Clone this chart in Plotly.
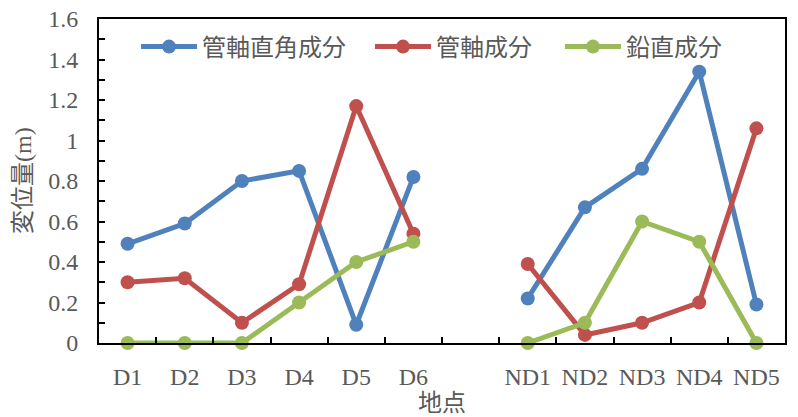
import plotly.graph_objects as go

# Survey points (blank slot separates the D and ND groups)
points = ["D1", "D2", "D3", "D4", "D5", "D6", " ", "ND1", "ND2", "ND3", "ND4", "ND5"]

# Displacement components (m); None marks the blank slot
perpendicular = [0.49, 0.59, 0.80, 0.85, 0.09, 0.82, None, 0.22, 0.67, 0.86, 1.34, 0.19]
axial = [0.30, 0.32, 0.10, 0.29, 1.17, 0.54, None, 0.39, 0.04, 0.10, 0.20, 1.06]
vertical = [0.0, 0.0, 0.0, 0.20, 0.40, 0.50, None, 0.0, 0.10, 0.60, 0.50, 0.0]

series = [
    ("管軸直角成分", perpendicular, "#4F81BD", "legend", 0.054),
    ("管軸成分", axial, "#C0504D", "legend2", 0.395),
    ("鉛直成分", vertical, "#9BBB59", "legend3", 0.672),
]

font_family = "Liberation Serif, 'Noto Sans CJK JP', serif"
gray = "#595959"

fig = go.Figure()
legend_layouts = {}
for name, values, color, legend_id, lx in series:
    fig.add_trace(go.Scatter(
        x=points, y=values, name=name, mode="lines+markers",
        line=dict(color=color, width=5),
        marker=dict(color=color, size=14),
        connectgaps=False, cliponaxis=False, legend=legend_id,
    ))
    legend_layouts[legend_id] = dict(
        x=lx, y=0.9136, xanchor="left", yanchor="middle",
        bgcolor="rgba(0,0,0,0)", font=dict(size=24, color=gray),
        itemwidth=56,
    )

fig.update_layout(
    width=798, height=417,
    margin=dict(l=99, r=13, t=19, b=74, autoexpand=False),
    plot_bgcolor="white", paper_bgcolor="white",
    font=dict(family=font_family, size=24, color=gray),
    showlegend=True,
    **legend_layouts,
    xaxis=dict(
        type="category", categoryorder="array", categoryarray=points,
        range=[-0.5, len(points) - 0.5], automargin=False,
        showline=True, linecolor="black", linewidth=2, mirror=True,
        ticks="inside", tickson="boundaries", ticklen=6, tickcolor="black", tickwidth=1.5,
        showgrid=False, tickfont=dict(size=24, color=gray), ticklabelstandoff=11,
        title=dict(text="地点", font=dict(size=24, color=gray), standoff=2),
    ),
    yaxis=dict(
        range=[0, 1.6], dtick=0.2, tickformat="~g", automargin=False,
        showline=True, linecolor="black", linewidth=2, mirror=True,
        ticks="inside", ticklen=6, tickcolor="black", tickwidth=1.5,
        minor=dict(dtick=0.1, ticks="inside", ticklen=6, tickcolor="black", tickwidth=1.5, showgrid=False),
        showgrid=False, zeroline=False, tickfont=dict(size=24, color=gray), ticklabelstandoff=14,
    ),
    annotations=[dict(
        text="変位量(m)", textangle=-90, showarrow=False,
        xref="paper", yref="paper", x=-76 / 686, y=0.5,
        xanchor="center", yanchor="middle",
        font=dict(size=24, color=gray),
    )],
)

fig.write_html("out.html")
